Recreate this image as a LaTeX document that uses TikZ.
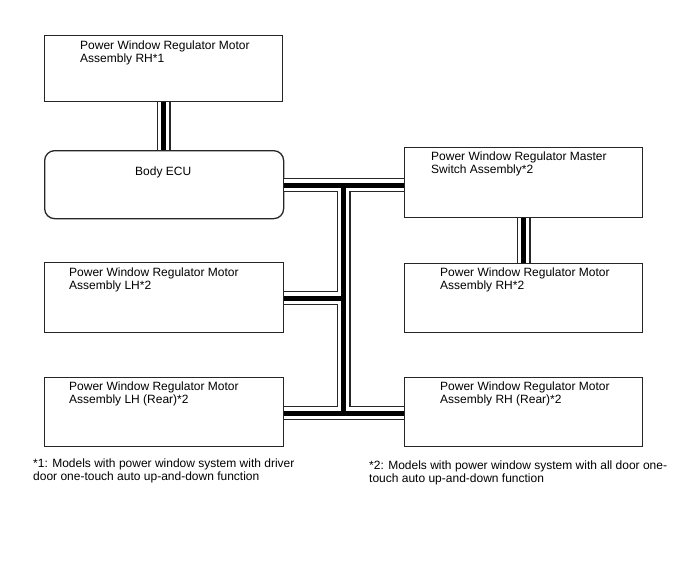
\documentclass[tikz,border=0pt]{standalone}
\usepackage{fontspec}
\setmainfont{Liberation Sans}
\begin{document}
\begin{tikzpicture}[x=1pt,y=-1pt,
  box/.style={draw=black!85, line width=1.3pt, inner sep=0pt, anchor=north west},
  lbl/.style={anchor=north west, inner sep=0pt, align=left, font=\fontsize{12}{13}\selectfont}]
\useasboundingbox[fill=white] (0,0) rectangle (688,560);
% boxes
\node[box, minimum width=238pt, minimum height=66pt] (rh1) at (44,35) {};
\node[box, minimum width=239pt, minimum height=68pt, rounded corners=10pt] (ecu) at (44,150) {};
\node[box, minimum width=238pt, minimum height=70pt] (master) at (404,147) {};
\node[box, minimum width=238pt, minimum height=69pt] (rh2) at (404,263) {};
\node[box, minimum width=239pt, minimum height=70pt] (lh) at (44,262) {};
\node[box, minimum width=239pt, minimum height=69pt] (lhr) at (44,377) {};
\node[box, minimum width=238pt, minimum height=69pt] (rhr) at (404,377) {};
% labels
\node[lbl] (rh1t) at (80,40.5) {Power Window Regulator Motor\\Assembly RH*1};
\node[lbl] (ecut) at (135,167) {Body ECU};
\node[lbl] (mastert) at (431,152) {Power Window Regulator Master\\Switch Assembly*2};
\node[lbl] (rh2t) at (440,268) {Power Window Regulator Motor\\Assembly RH*2};
\node[lbl] (lht) at (69,268) {Power Window Regulator Motor\\Assembly LH*2};
\node[lbl] (lhrt) at (69,382) {Power Window Regulator Motor\\Assembly LH (Rear)*2};
\node[lbl] (rhrt) at (440,382) {Power Window Regulator Motor\\Assembly RH (Rear)*2};
\node[lbl] (fn1) at (33,459) {*1: Models with power window system with driver\\door one-touch auto up-and-down function};
\node[lbl] (fn2) at (369,461) {*2: Models with power window system with all door one-\\touch auto up-and-down function};
% bus junctions
\coordinate (jt) at (343.5,185);
\coordinate (jm) at (343.5,298);
\coordinate (jb) at (343.5,413);
% bus (three passes)
\foreach \w/\c in {14/black!85, 11.5/white, 5/black} {
  \draw[line width=\w pt, draw=\c]
    (rh1.south) -- (rh1.south |- ecu.north)
    (ecu.east |- jt) -- (master.west |- jt)
    (jt) -- (jb)
    (lh.east |- jm) -- (jm)
    (lhr.east |- jb) -- (rhr.west |- jb)
    (master.south) -- (master.south |- rh2.north);
}
\end{tikzpicture}
\end{document}
